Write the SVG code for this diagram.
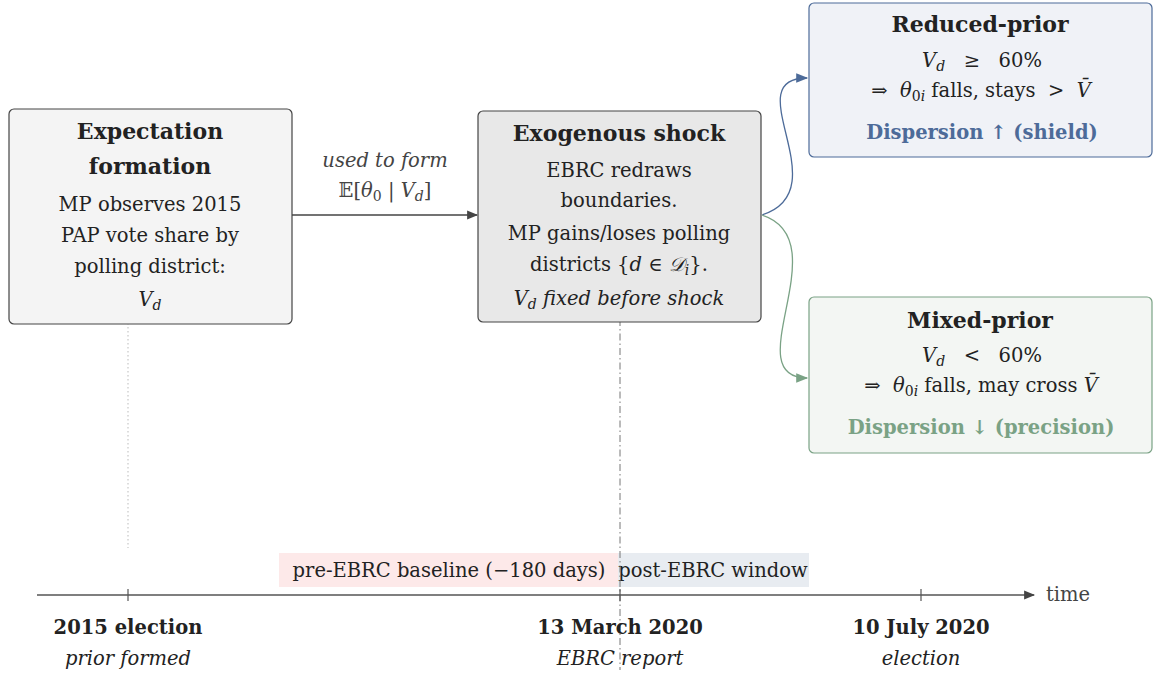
<svg xmlns="http://www.w3.org/2000/svg" width="1153" height="675" viewBox="0 0 1153 675">
<style>
text{fill:#222;text-anchor:middle;white-space:pre}
.t{font-size:22px;font-weight:bold}
.b{font-size:19.5px}
.i{font-style:italic}
.bl{fill:#4d6b99;font-weight:bold;font-size:19.5px}
.gr{fill:#7aa285;font-weight:bold;font-size:19.5px}
.lab{font-size:19.5px;font-weight:bold}
.sub{font-size:19.5px;font-style:italic}
</style>
<defs>
<marker id="ah" viewBox="0 0 10 10" refX="9" refY="5" markerWidth="13" markerHeight="11" markerUnits="userSpaceOnUse" orient="auto"><path d="M0,1 L10,5 L0,9 z" fill="#444"/></marker>
<marker id="ab" viewBox="0 0 10 10" refX="9" refY="5" markerWidth="15" markerHeight="12" markerUnits="userSpaceOnUse" orient="auto"><path d="M0,1 L10,5 L0,9 z" fill="#4d6b99"/></marker>
<marker id="ag" viewBox="0 0 10 10" refX="9" refY="5" markerWidth="15" markerHeight="12" markerUnits="userSpaceOnUse" orient="auto"><path d="M0,1 L10,5 L0,9 z" fill="#7aa285"/></marker>
</defs>
<rect width="1153" height="675" fill="#fff"/>
<g font-family="DejaVu Serif, serif">
<g id="windows">
<rect x="279" y="553" width="339" height="34" fill="#fde9e9"/>
<rect x="618" y="553" width="191" height="34" fill="#e8ecf1"/>
<text class="b" x="449" y="577">pre-EBRC baseline (−180 days)</text>
<text class="b" x="713" y="577">post-EBRC window</text>
</g>
<g id="guides">
<line x1="128" y1="287" x2="128" y2="548" stroke="#bbb" stroke-width="1" stroke-dasharray="1.5,2.5"/>
<line x1="620" y1="290" x2="620" y2="670" stroke="#777" stroke-width="1" stroke-dasharray="7,3,1.5,3"/>
</g>
<g id="n1">
<rect x="9" y="109" width="283" height="215" rx="5" fill="#f4f4f4" stroke="#444" stroke-width="1.2"/>
<text class="t" x="150" y="139">Expectation</text>
<text class="t" x="150" y="174">formation</text>
<text class="b" x="150" y="211">MP observes 2015</text>
<text class="b" x="150" y="242">PAP vote share by</text>
<text class="b" x="150" y="273">polling district:</text>
<text class="b" x="150" y="306"><tspan class="i">V</tspan><tspan class="i" font-size="14" dy="4">d</tspan></text>
</g>
<g id="n2">
<rect x="478" y="111" width="283" height="211" rx="5" fill="#e8e8e8" stroke="#444" stroke-width="1.2"/>
<text class="t" x="619" y="141">Exogenous shock</text>
<text class="b" x="619" y="177">EBRC redraws</text>
<text class="b" x="619" y="207">boundaries.</text>
<text class="b" x="619" y="240">MP gains/loses polling</text>
<text class="b" x="619" y="271">districts {<tspan class="i">d</tspan> ∈ <tspan class="i">𝒟</tspan><tspan class="i" font-size="14" dy="4">i</tspan><tspan dy="-4">}.</tspan></text>
<text class="b i" x="619" y="305">V<tspan font-size="14" dy="4">d</tspan><tspan dy="-4"> fixed before shock</tspan></text>
</g>
<g id="n3">
<rect x="809" y="3" width="343" height="154" rx="5" fill="#f0f2f7" stroke="#4d6b99" stroke-width="1.2"/>
<text class="t" x="980" y="32">Reduced-prior</text>
<text class="b" x="982" y="67"><tspan class="i">V</tspan><tspan class="i" font-size="14" dy="4">d</tspan><tspan dy="-4">   ≥   60%</tspan></text>
<text class="b" x="981" y="97">⇒  <tspan class="i">θ</tspan><tspan font-size="14" dy="4">0<tspan class="i">i</tspan></tspan><tspan dy="-4"> falls, stays  &gt;  </tspan><tspan class="i">V̄</tspan></text>
<text class="bl" x="982" y="139">Dispersion ↑ (shield)</text>
</g>
<g id="n4">
<rect x="809" y="297" width="343" height="156" rx="5" fill="#f3f6f3" stroke="#7aa285" stroke-width="1.2"/>
<text class="t" x="980" y="328">Mixed-prior</text>
<text class="b" x="982" y="362"><tspan class="i">V</tspan><tspan class="i" font-size="14" dy="4">d</tspan><tspan dy="-4">   &lt;   60%</tspan></text>
<text class="b" x="981" y="392">⇒  <tspan class="i">θ</tspan><tspan font-size="14" dy="4">0<tspan class="i">i</tspan></tspan><tspan dy="-4"> falls, may cross </tspan><tspan class="i">V̄</tspan></text>
<text class="gr" x="981" y="434">Dispersion ↓ (precision)</text>
</g>
<g id="connectors" fill="none">
<line x1="292" y1="215" x2="477" y2="215" stroke="#444" stroke-width="1.3" marker-end="url(#ah)"/>
<text class="b i" x="385" y="167" style="fill:#444">used to form</text>
<text class="b" x="385" y="197" style="fill:#444">𝔼[<tspan class="i">θ</tspan><tspan font-size="14" dy="4">0</tspan><tspan dy="-4"> | </tspan><tspan class="i">V</tspan><tspan class="i" font-size="14" dy="4">d</tspan><tspan dy="-4">]</tspan></text>
<path d="M762,215 C840,190 735,78 807,78" stroke="#4d6b99" stroke-width="1.3" marker-end="url(#ab)"/>
<path d="M762,215 C840,240 735,378 807,378" stroke="#7aa285" stroke-width="1.3" marker-end="url(#ag)"/>
</g>
<g id="timeline">
<line x1="37" y1="595" x2="1034" y2="595" stroke="#555" stroke-width="1.3" marker-end="url(#ah)"/>
<line x1="128" y1="589" x2="128" y2="601" stroke="#555" stroke-width="1.2"/>
<line x1="620" y1="589" x2="620" y2="601" stroke="#555" stroke-width="1.2"/>
<line x1="921" y1="589" x2="921" y2="601" stroke="#555" stroke-width="1.2"/>
<text class="b" x="1068" y="601" style="fill:#444">time</text>
<text class="lab" x="128" y="634">2015 election</text>
<text class="sub" x="128" y="665">prior formed</text>
<text class="lab" x="620" y="634">13 March 2020</text>
<text class="sub" x="620" y="665">EBRC report</text>
<text class="lab" x="921" y="634">10 July 2020</text>
<text class="sub" x="921" y="665">election</text>
</g>
</g>
</svg>
